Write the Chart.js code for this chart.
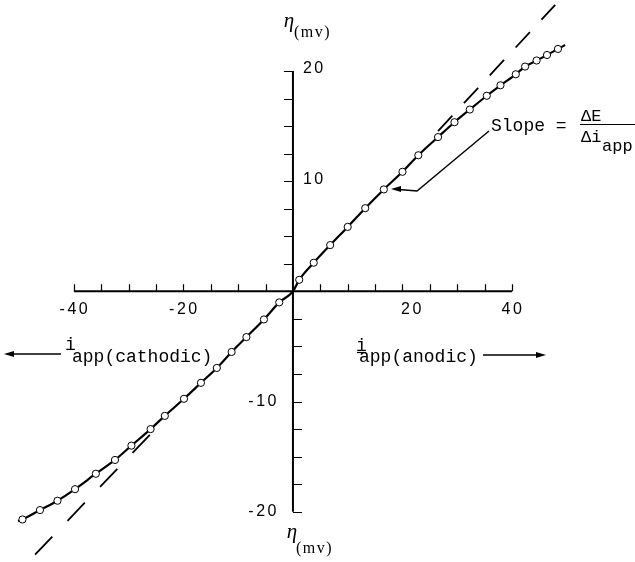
<!DOCTYPE html>
<html>
<head>
<meta charset="utf-8">
<script src="https://cdn.jsdelivr.net/npm/chart.js@4.4.1/dist/chart.umd.min.js"></script>
<style>
  html, body { margin: 0; padding: 0; background: #fff; }
  canvas { display: block; }
</style>
</head>
<body>
<canvas id="chart" width="635" height="562"></canvas>
<script>
// Overpotential vs applied current
const curveI   = [-50.2, -49.4, -46.2, -43.0, -39.8, -36.0, -32.5, -29.5, -26.0, -23.4, -19.9, -16.8, -13.9, -11.2, -8.5, -5.3, -2.5, 0, 1.15, 3.8, 6.8, 10.0, 13.2, 16.6, 20.0, 22.9, 26.5, 29.5, 32.3, 35.4, 37.9, 40.7, 42.4, 44.5, 46.4, 48.4, 49.7];
const curveEta = [-20.85, -20.7, -19.85, -19.0, -17.95, -16.55, -15.3, -14.0, -12.5, -11.3, -9.75, -8.3, -6.95, -5.5, -4.15, -2.55, -1.0, 0, 1.05, 2.6, 4.2, 5.85, 7.55, 9.25, 10.85, 12.35, 14.0, 15.35, 16.5, 17.75, 18.7, 19.7, 20.4, 20.95, 21.45, 22.0, 22.35];
// 1 = open circle marker, 0 = just a point on the line
const curveMarked = [0, 1, 1, 1, 1, 1, 1, 1, 1, 1, 1, 1, 1, 1, 1, 1, 1, 0, 1, 1, 1, 1, 1, 1, 1, 1, 1, 1, 1, 1, 1, 1, 1, 1, 1, 1, 0];

// dashed tangent line, drawn only where it leaves the curve
const tangentLowI    = [-47.1, -26.1];
const tangentLowEta  = [-23.9, -13.0];
const tangentHighI   = [26.5, 47.9];
const tangentHighEta = [14.55, 26.0];

// axes
const xAxisEnds  = [-40, 40];
const yAxisEnds  = [-20, 20];
const xTicks     = [-40, -35, -30, -25, -20, -15, -10, -5, 5, 10, 15, 20, 25, 30, 35, 40];
const yTicks     = [-20, -17.5, -15, -12.5, -10, -7.5, -5, -2.5, 2.5, 5, 7.5, 10, 12.5, 15, 17.5, 20];
const xTickLabels = [-40, -20, 20, 40];
const yTickLabels = [-20, -10, 10, 20];

function pts(xs, ys) {
    return xs.map((x, i) => ({ x: x, y: ys[i] }));
}

const MONO = '"Liberation Mono", monospace';
const SERIF = '"Liberation Serif", serif';

function text(ctx, s, x, y, font, align, spacing) {
    ctx.font = font;
    ctx.textAlign = align || 'left';
    ctx.textBaseline = 'middle';
    ctx.letterSpacing = spacing || '0px';
    ctx.fillText(s, x, y);
    ctx.letterSpacing = '0px';
}

function arrowHead(ctx, tipX, tipY, dir) {
    // dir: -1 pointing left, 1 pointing right
    ctx.beginPath();
    ctx.moveTo(tipX, tipY);
    ctx.lineTo(tipX - dir * 10, tipY - 3);
    ctx.lineTo(tipX - dir * 10, tipY + 3);
    ctx.closePath();
    ctx.fill();
}

const axesPlugin = {
    id: 'crossAxes',
    beforeDatasetsDraw(chart) {
        const ctx = chart.ctx;
        const xs = chart.scales.x, ys = chart.scales.y;
        const x0 = xs.getPixelForValue(0), y0 = ys.getPixelForValue(0);
        ctx.save();
        ctx.strokeStyle = '#000';
        // main axis lines
        ctx.lineWidth = 2;
        ctx.beginPath();
        ctx.moveTo(xs.getPixelForValue(xAxisEnds[0]), y0);
        ctx.lineTo(xs.getPixelForValue(xAxisEnds[1]), y0);
        ctx.moveTo(x0, ys.getPixelForValue(yAxisEnds[0]));
        ctx.lineTo(x0, ys.getPixelForValue(yAxisEnds[1]));
        ctx.stroke();
        // ticks
        ctx.lineWidth = 1.2;
        ctx.beginPath();
        xTicks.forEach(v => {
            const px = Math.round(xs.getPixelForValue(v)) + 0.5;
            ctx.moveTo(px, y0);
            ctx.lineTo(px, y0 - 7);
        });
        yTicks.forEach(v => {
            const py = Math.round(ys.getPixelForValue(v)) + 0.5;
            ctx.moveTo(x0, py);
            ctx.lineTo(v > 0 ? x0 - 9 : x0 + 9, py);
        });
        ctx.stroke();
        ctx.restore();
    },
    afterDatasetsDraw(chart) {
        const ctx = chart.ctx;
        const xs = chart.scales.x, ys = chart.scales.y;
        const x0 = xs.getPixelForValue(0), y0 = ys.getPixelForValue(0);
        ctx.save();
        ctx.fillStyle = '#000';
        ctx.strokeStyle = '#000';

        // tick labels (the "20" sits a little right of its tick in the original)
        const numFont = '16px "Liberation Sans", Arial, sans-serif';
        xTickLabels.forEach(v => {
            const px = xs.getPixelForValue(v) + (v === 20 ? 10 : 1);
            text(ctx, String(v), px, y0 + 18, numFont, 'center', '2.5px');
        });
        yTickLabels.forEach(v => {
            const py = ys.getPixelForValue(v);
            if (v > 0) text(ctx, String(v), x0 + 10, py - 2, numFont, 'left', '2.5px');
            else text(ctx, String(v), x0 - 14, py, numFont, 'right', '2.5px');
        });

        // eta (mv) axis titles
        text(ctx, 'η', x0 - 4, 21, 'italic 21px ' + SERIF, 'center');
        text(ctx, '(mv)', x0 + 1, 33, '16px ' + SERIF, 'left', '1.5px');
        text(ctx, 'η', x0 - 1, 532, 'italic 21px ' + SERIF, 'center');
        text(ctx, '(mv)', x0 + 3, 549, '16px ' + SERIF, 'left', '1.5px');

        // cathodic label + arrow
        const lab = '18px ' + MONO;
        text(ctx, 'i', 65, 345, lab);
        text(ctx, 'app(cathodic)', 72, 357, lab);
        ctx.lineWidth = 1.4;
        ctx.beginPath();
        ctx.moveTo(61, 354);
        ctx.lineTo(10, 354);
        ctx.stroke();
        arrowHead(ctx, 4, 354, -1);

        // anodic label + arrow
        text(ctx, 'i', 356, 346, lab);
        ctx.lineWidth = 1.2;
        ctx.beginPath();
        ctx.moveTo(357, 352.5);
        ctx.lineTo(366, 352.5);
        ctx.stroke();
        text(ctx, 'app(anodic)', 359, 357, lab);
        ctx.lineWidth = 1.4;
        ctx.beginPath();
        ctx.moveTo(483, 355);
        ctx.lineTo(538, 355);
        ctx.stroke();
        arrowHead(ctx, 546, 355, 1);

        // slope annotation
        text(ctx, 'Slope = ', 491, 126, lab);
        text(ctx, 'ΔE', 581, 116, '17px ' + MONO);
        ctx.lineWidth = 1.2;
        ctx.beginPath();
        ctx.moveTo(580, 124.5);
        ctx.lineTo(640, 124.5);
        ctx.stroke();
        text(ctx, 'Δi', 581, 137, '17px ' + MONO);
        text(ctx, 'app', 602, 146, '17px ' + MONO);

        ctx.lineWidth = 1.4;
        ctx.beginPath();
        ctx.moveTo(489, 131);
        ctx.lineTo(417, 191);
        ctx.lineTo(399, 189.5);
        ctx.stroke();
        arrowHead(ctx, 391, 189, -1);
        ctx.restore();
    }
};

Chart.defaults.font.family = '"Liberation Sans", Arial, sans-serif';

new Chart(document.getElementById('chart'), {
    type: 'scatter',
    data: {
        datasets: [
            {
                label: 'eta',
                data: pts(curveI, curveEta),
                showLine: true,
                borderColor: '#000',
                borderWidth: 2.2,
                cubicInterpolationMode: 'monotone',
                pointRadius: ctx => curveMarked[ctx.dataIndex] ? 3.6 : 0,
                pointBackgroundColor: '#fff',
                pointBorderColor: '#000',
                pointBorderWidth: 1
            },
            {
                label: 'tangent low',
                data: pts(tangentLowI, tangentLowEta),
                showLine: true,
                borderColor: '#000',
                borderWidth: 1.8,
                borderDash: [25, 22],
                pointRadius: 0
            },
            {
                label: 'tangent high',
                data: pts(tangentHighI, tangentHighEta),
                showLine: true,
                borderColor: '#000',
                borderWidth: 1.8,
                borderDash: [21, 17],
                pointRadius: 0
            }
        ]
    },
    options: {
        responsive: false,
        animation: false,
        devicePixelRatio: 1,
        layout: { padding: 0 },
        plugins: {
            legend: { display: false },
            tooltip: { enabled: false }
        },
        scales: {
            x: { type: 'linear', min: -53.5, max: 62.47, display: false },
            y: { type: 'linear', min: -24.56, max: 26.44, display: false }
        }
    },
    plugins: [axesPlugin]
});
</script>
</body>
</html>
